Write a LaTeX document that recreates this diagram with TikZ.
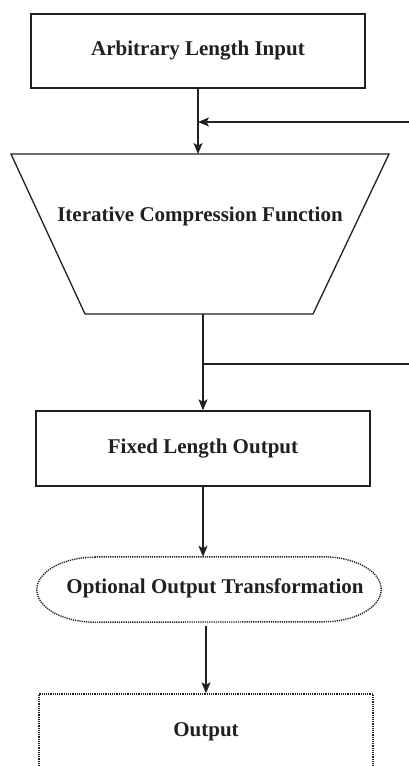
\documentclass[tikz,border=0pt]{standalone}
\usepackage{fontspec}
\setmainfont{Liberation Serif}
\usetikzlibrary{arrows.meta}
\definecolor{ink}{HTML}{231F20}
\begin{document}
\begin{tikzpicture}[x=1pt,y=-1pt,
  every node/.style={text=ink,font=\fontsize{21}{24}\selectfont\bfseries},
  solidbox/.style={draw=ink,line width=1.3pt,rectangle,inner sep=0pt},
  dotline/.style={draw=ink,line width=1.4pt,dash pattern=on 1.2pt off 1pt},
  dotbox/.style={dotline,inner sep=0pt},
  arr/.style={draw=ink,line width=1.3pt,-{Stealth[length=11pt,width=9pt,inset=2.5pt]}},
  plain/.style={draw=ink,line width=1.3pt}]
\clip (0,0) rectangle (409,766);
\fill[white] (0,0) rectangle (409,766);
% top box
\node[solidbox,minimum width=334pt,minimum height=74pt] (in) at (198,51) {Arbitrary Length Input};
% trapezoid
\coordinate (ctop) at (198,154);
\coordinate (cbot) at (203,314);
\draw[draw=ink,line width=1.3pt,line join=miter] (11,154) -- (389,154) -- (313,314) -- (85,314) -- cycle;
\node (icf) at (200,216) {Iterative Compression Function};
% fixed box
\node[solidbox,minimum width=334pt,minimum height=75pt] (fix) at (203,448.5) {\raisebox{4pt}{Fixed Length Output}};
% optional transformation (flattened ellipse)
\node[rectangle,inner sep=0pt,minimum width=344pt,minimum height=65pt] (opt) at (209,589.5) {};
\draw[dotline] ([xshift=58pt]opt.north west) -- ([xshift=-58pt]opt.north east)
  arc[start angle=90,end angle=-90,x radius=58pt,y radius=32.5pt]
  -- ([xshift=58pt]opt.south west)
  arc[start angle=270,end angle=90,x radius=58pt,y radius=32.5pt] -- cycle;
\node (optt) at (215,588) {Optional Output Transformation};
% output box
\node[dotbox,rectangle,minimum width=334pt,minimum height=75pt] (out) at (206,731.5) {\raisebox{-2pt}{Output}};
% feedback coordinates
\coordinate (fbin) at (409,122);
\coordinate (fbout) at (409,364);
% connectors
\draw[arr] (in.south) -- (ctop);
\draw[arr] (fbin) -- (in.south |- fbin);
\draw[arr] (cbot) -- (cbot |- fix.north);
\draw[plain] (cbot |- fbout) -- (fbout);
\draw[arr] (fix.south) -- (fix.south |- opt.north);
\draw[arr,shorten <=4pt] (opt.south -| out.north) -- (out.north);
\end{tikzpicture}
\end{document}
